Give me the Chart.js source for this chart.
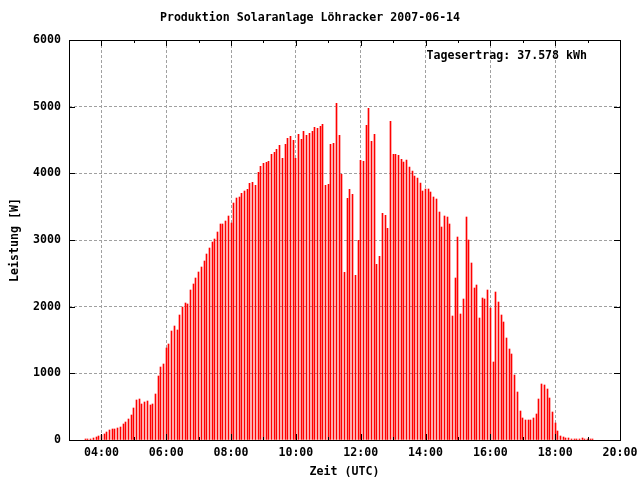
<!DOCTYPE html>
<html>
<head>
<meta charset="utf-8">
<script src="https://cdn.jsdelivr.net/npm/chart.js@4/dist/chart.umd.min.js"></script>
<style>
  html, body { margin: 0; padding: 0; background: #fff; }
  #wrap { width: 640px; height: 480px; }
</style>
</head>
<body>
<div id="wrap"><canvas id="chart"></canvas></div>
<script>
// 5-minute readings, 2007-06-14 (UTC)
const times = [
  '03:30','03:35','03:40','03:45','03:50','03:55',
  '04:00','04:05','04:10','04:15','04:20','04:25','04:30','04:35','04:40','04:45','04:50','04:55',
  '05:00','05:05','05:10','05:15','05:20','05:25','05:30','05:35','05:40','05:45','05:50','05:55',
  '06:00','06:05','06:10','06:15','06:20','06:25','06:30','06:35','06:40','06:45','06:50','06:55',
  '07:00','07:05','07:10','07:15','07:20','07:25','07:30','07:35','07:40','07:45','07:50','07:55',
  '08:00','08:05','08:10','08:15','08:20','08:25','08:30','08:35','08:40','08:45','08:50','08:55',
  '09:00','09:05','09:10','09:15','09:20','09:25','09:30','09:35','09:40','09:45','09:50','09:55',
  '10:00','10:05','10:10','10:15','10:20','10:25','10:30','10:35','10:40','10:45','10:50','10:55',
  '11:00','11:05','11:10','11:15','11:20','11:25','11:30','11:35','11:40','11:45','11:50','11:55',
  '12:00','12:05','12:10','12:15','12:20','12:25','12:30','12:35','12:40','12:45','12:50','12:55',
  '13:00','13:05','13:10','13:15','13:20','13:25','13:30','13:35','13:40','13:45','13:50','13:55',
  '14:00','14:05','14:10','14:15','14:20','14:25','14:30','14:35','14:40','14:45','14:50','14:55',
  '15:00','15:05','15:10','15:15','15:20','15:25','15:30','15:35','15:40','15:45','15:50','15:55',
  '16:00','16:05','16:10','16:15','16:20','16:25','16:30','16:35','16:40','16:45','16:50','16:55',
  '17:00','17:05','17:10','17:15','17:20','17:25','17:30','17:35','17:40','17:45','17:50','17:55',
  '18:00','18:05','18:10','18:15','18:20','18:25','18:30','18:35','18:40','18:45','18:50','18:55',
  '19:00','19:05','19:10'
];
const power = [
  15, 15, 15, 30, 45, 60,
  75, 90, 120, 150, 165, 165, 180, 195, 240, 270, 315, 375,
  480, 600, 615, 540, 570, 585, 525, 540, 690, 960, 1095, 1140,
  1380, 1440, 1635, 1710, 1650, 1875, 1995, 2055, 2040, 2250, 2340, 2430,
  2520, 2595, 2685, 2790, 2880, 2970, 3015, 3120, 3240, 3240, 3285, 3360,
  3255, 3555, 3630, 3645, 3700, 3735, 3760, 3850, 3865, 3820, 4015, 4105,
  4150, 4165, 4180, 4285, 4315, 4360, 4420, 4225, 4435, 4525, 4555, 4495,
  4225, 4585, 4510, 4630, 4570, 4600, 4630, 4690, 4675, 4705, 4735, 3820,
  3835, 4435, 4450, 5050, 4570, 3985, 2515, 3625, 3760, 3685, 2470, 2995,
  4195, 4180, 4720, 4975, 4480, 4585, 2635, 2755, 3400, 3370, 3175, 4780,
  4285, 4285, 4270, 4210, 4170, 4200, 4095, 4035, 3960, 3930, 3855, 3735,
  3765, 3765, 3720, 3645, 3615, 3420, 3195, 3360, 3345, 3240, 1860, 2430,
  3045, 1890, 2115, 3345, 3000, 2655, 2280, 2325, 1830, 2130, 2115, 2250,
  1980, 1170, 2220, 2070, 1875, 1770, 1530, 1365, 1290, 975, 720, 435,
  330, 300, 300, 300, 330, 390, 615, 840, 825, 765, 630, 420,
  255, 135, 60, 45, 30, 30, 15, 15, 15, 15, 30, 15,
  15, 15, 15
];
const xTickHours = [4, 6, 8, 10, 12, 14, 16, 18, 20];
const yTicks = [0, 1000, 2000, 3000, 4000, 5000, 6000];
const dayTotal = '37.578';

const FONT = { family: "'DejaVu Sans Mono', 'Liberation Mono', monospace", size: 11.6, weight: 'bold', lineHeight: 1.2 };
const toMin = t => { const [h, m] = t.split(':'); return +h * 60 + +m; };
const pad2 = n => String(n).padStart(2, '0');

// snap the 1px impulses to whole pixels so they stay solid red
const crispBars = {
  id: 'crispBars',
  beforeDatasetsDraw(chart) {
    chart.getDatasetMeta(0).data.forEach(el => { el.x = Math.floor(el.x) + 0.5; });
  }
};

// gnuplot style frame with inward ticks + day total label
const frame = {
  id: 'frame',
  afterDatasetsDraw(chart) {
    const { ctx, chartArea: a, scales: { x, y } } = chart;
    ctx.save();
    ctx.strokeStyle = '#000';
    ctx.lineWidth = 1;
    ctx.beginPath();
    for (let h = 3; h <= 20; h++) {
      const px = Math.round(x.getPixelForValue(h * 60)) + 0.5;
      const len = h % 2 === 0 ? 6 : 3;
      ctx.moveTo(px, a.bottom); ctx.lineTo(px, a.bottom - len);
      ctx.moveTo(px, a.top); ctx.lineTo(px, a.top + len);
    }
    yTicks.forEach(v => {
      const py = Math.round(y.getPixelForValue(v)) + 0.5;
      ctx.moveTo(a.left, py); ctx.lineTo(a.left + 6, py);
      ctx.moveTo(a.right, py); ctx.lineTo(a.right - 6, py);
    });
    ctx.stroke();
    ctx.strokeRect(Math.round(a.left) + 0.5, Math.round(a.top) + 0.5,
      Math.round(a.right - a.left), Math.round(a.bottom - a.top));
    ctx.fillStyle = '#000';
    ctx.font = `bold ${FONT.size}px ${FONT.family}`;
    ctx.textAlign = 'right';
    ctx.textBaseline = 'middle';
    ctx.fillText('Tagesertrag: ' + dayTotal + ' kWh', a.right - 33, a.top + 16);
    ctx.restore();
  }
};

new Chart(document.getElementById('chart'), {
  type: 'bar',
  data: {
    datasets: [{
      data: times.map((t, i) => ({ x: toMin(t), y: power[i] })),
      backgroundColor: '#ff0000',
      barThickness: 1,
      borderWidth: 0
    }]
  },
  options: {
    responsive: true,
    maintainAspectRatio: false,
    animation: false,
    layout: { padding: { left: 0, right: 20, top: 0, bottom: 0 } },
    plugins: {
      legend: { display: false },
      tooltip: { enabled: false },
      title: {
        display: true,
        text: 'Produktion Solaranlage Löhracker 2007-06-14',
        color: '#000',
        font: FONT,
        padding: { top: 11, bottom: 15.1 }
      }
    },
    scales: {
      x: {
        type: 'linear',
        min: 180,
        max: 1200,
        offset: false,
        afterBuildTicks: s => { s.ticks = xTickHours.map(h => ({ value: h * 60 })); },
        afterFit: s => { s.height = 40; s.paddingLeft = 0; s.paddingRight = 0; },
        ticks: {
          color: '#000',
          font: FONT,
          padding: 6,
          maxRotation: 0,
          autoSkip: false,
          callback: v => pad2(Math.floor(v / 60)) + ':' + pad2(v % 60)
        },
        grid: { color: '#a0a0a0', drawTicks: false, offset: false },
        border: { display: false, dash: [3, 2] },
        title: { display: true, text: 'Zeit (UTC)', color: '#000', font: FONT, padding: { top: 0, bottom: 1 } }
      },
      y: {
        min: 0,
        max: 6000,
        afterBuildTicks: s => { s.ticks = yTicks.map(v => ({ value: v })); },
        afterFit: s => { s.width = 69; s.paddingTop = 0; s.paddingBottom = 0; },
        ticks: { color: '#000', font: FONT, padding: 8, callback: v => String(v) },
        grid: { color: '#a0a0a0', drawTicks: false },
        border: { display: false, dash: [3, 2] },
        title: { display: true, text: 'Leistung [W]', color: '#000', font: FONT, padding: { top: 8, bottom: 0 } }
      }
    }
  },
  plugins: [crispBars, frame]
});
</script>
</body>
</html>
